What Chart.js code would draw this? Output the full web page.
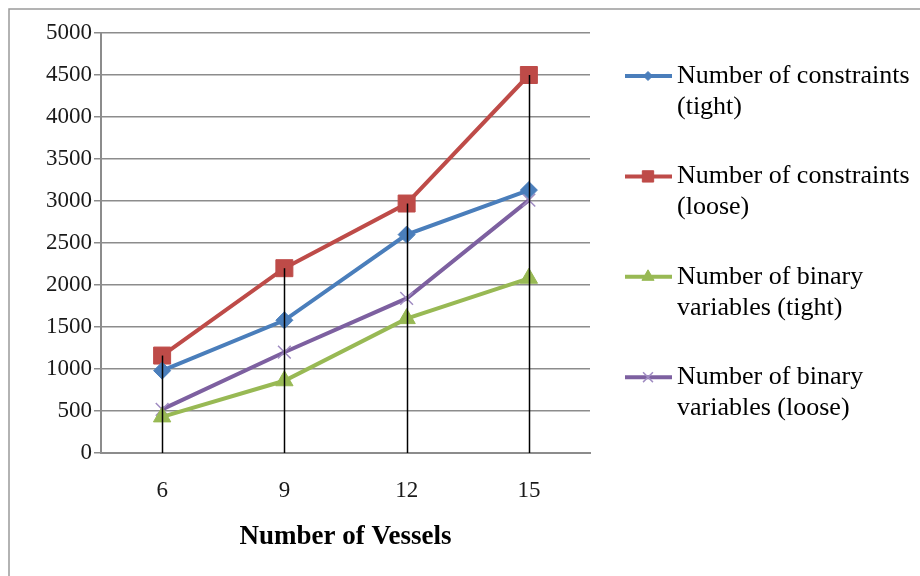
<!DOCTYPE html>
<html>
<head>
<meta charset="utf-8">
<script src="https://cdn.jsdelivr.net/npm/chart.js@4.4.0/dist/chart.umd.min.js"></script>
<style>
    html, body { margin: 0; padding: 0; background: #fff; }
    #wrap { width: 920px; height: 576px; position: relative; }
</style>
</head>
<body>
<div id="wrap"><canvas id="chart" width="920" height="576"></canvas></div>
<script>
'use strict';

// Data
var categories        = ['6', '9', '12', '15'];
var constraintsTight  = [980, 1580, 2600, 3130];
var constraintsLoose  = [1160, 2200, 2970, 4500];
var binaryTight       = [430, 860, 1600, 2080];
var binaryLoose       = [520, 1200, 1840, 3010];
var yMax              = 5000;
var yStep             = 500;

var seriesLabels = [
    ['Number of constraints', '(tight)'],
    ['Number of constraints', '(loose)'],
    ['Number of binary', 'variables (tight)'],
    ['Number of binary', 'variables (loose)']
];

var SERIF = "'Liberation Serif', 'Times New Roman', serif";
var GRID  = '#8c8c8c';

function series(label, data, color, style, radius, pointColor) {
    return {
        label: label.join(' '),
        legendLines: label,
        data: data,
        borderColor: color,
        backgroundColor: pointColor || color,
        pointBackgroundColor: pointColor || color,
        pointBorderColor: pointColor || color,
        borderWidth: 4,
        pointStyle: style,
        pointRadius: radius,
        pointBorderWidth: style === 'crossRot' ? 1.5 : 1,
        tension: 0
    };
}

/**
 * Frame, drop lines and the right hand legend.
 */
var extras = {
    id: 'extras',
    beforeDraw: function(chart) {
        var ctx = chart.ctx;
        ctx.save();
        ctx.fillStyle = '#fff';
        ctx.fillRect(0, 0, chart.width, chart.height);
        ctx.strokeStyle = '#9a9a9a';
        ctx.lineWidth = 1.5;
        ctx.strokeRect(9, 9, chart.width + 20, chart.height + 20);
        ctx.restore();
    },
    afterDatasetsDraw: function(chart) {
        var ctx = chart.ctx;
        var x = chart.scales.x, y = chart.scales.y;
        ctx.save();
        ctx.strokeStyle = '#000';
        ctx.lineWidth = 1.5;
        for (var i = 0; i < categories.length; i++) {
            var top = 0;
            chart.data.datasets.forEach(function(ds) { top = Math.max(top, ds.data[i]); });
            var px = Math.round(x.getPixelForValue(i)) + 0.5;
            ctx.beginPath();
            ctx.moveTo(px, y.getPixelForValue(top));
            ctx.lineTo(px, y.getPixelForValue(0));
            ctx.stroke();
        }
        ctx.restore();
    },
    afterDraw: function(chart) {
        var ctx = chart.ctx;
        var sizes = { rectRot: 4.5, rect: 8, triangle: 7, crossRot: 7 };
        ctx.save();
        chart.data.datasets.forEach(function(ds, i) {
            var cy = 76 + i * 100.4;
            ctx.strokeStyle = ds.borderColor;
            ctx.lineWidth = 4;
            ctx.beginPath();
            ctx.moveTo(625, cy);
            ctx.lineTo(672, cy);
            ctx.stroke();
            ctx.fillStyle = ds.pointBackgroundColor;
            ctx.strokeStyle = ds.pointBorderColor;
            ctx.lineWidth = ds.pointBorderWidth;
            Chart.helpers.drawPoint(ctx, {
                pointStyle: ds.pointStyle,
                radius: sizes[ds.pointStyle],
                rotation: 0,
                borderWidth: ds.pointBorderWidth
            }, 648, cy);
            ctx.fillStyle = '#000';
            ctx.font = '26px ' + SERIF;
            ctx.textBaseline = 'middle';
            ctx.textAlign = 'left';
            ds.legendLines.forEach(function(line, k) {
                ctx.fillText(line, 677, cy + k * 31);
            });
        });
        ctx.restore();
    }
};

var ctx = document.getElementById('chart').getContext('2d');
var chart = new Chart(ctx, {
    type: 'line',
    data: {
        labels: categories,
        datasets: [
            series(seriesLabels[0], constraintsTight, '#4a7ebb', 'rectRot', 8.5),
            series(seriesLabels[1], constraintsLoose, '#be4b48', 'rect', 12),
            series(seriesLabels[2], binaryTight, '#98b954', 'triangle', 10),
            series(seriesLabels[3], binaryLoose, '#7d60a0', 'crossRot', 9, '#a08cc2')
        ]
    },
    options: {
        responsive: false,
        animation: false,
        layout: { padding: { left: 0, top: 33, right: 330, bottom: 0 } },
        plugins: {
            legend: { display: false },
            tooltip: { enabled: false }
        },
        scales: {
            x: {
                offset: true,
                grid: { display: false, drawTicks: false },
                border: { display: true, color: GRID, width: 2 },
                ticks: {
                    padding: 24,
                    color: '#1a1a1a',
                    font: { family: SERIF, size: 23 }
                },
                title: {
                    display: true,
                    text: 'Number of Vessels',
                    color: '#000',
                    font: { family: SERIF, size: 27, weight: 'bold' },
                    padding: { top: 0, bottom: 23 }
                },
                afterFit: function(scale) { scale.height = 123; }
            },
            y: {
                min: 0,
                max: yMax,
                grid: {
                    color: GRID,
                    lineWidth: 1.5,
                    tickLength: 7,
                    tickColor: GRID
                },
                border: { display: true, color: GRID, width: 2 },
                ticks: {
                    stepSize: yStep,
                    padding: 2,
                    color: '#1a1a1a',
                    font: { family: SERIF, size: 23 },
                    callback: function(value) { return String(value); }
                },
                afterFit: function(scale) { scale.width = 101; }
            }
        }
    },
    plugins: [extras]
});
</script>
</body>
</html>
